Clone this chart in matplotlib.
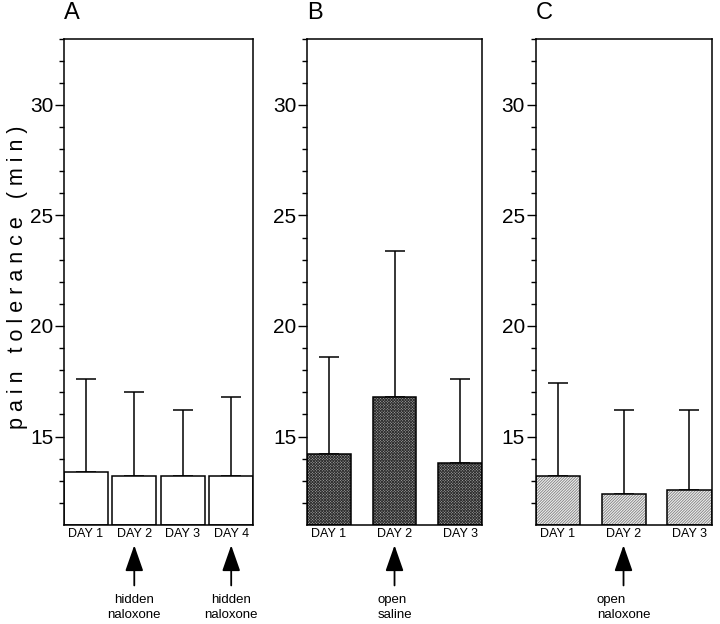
import numpy as np
import matplotlib.pyplot as plt

plt.rcParams['font.family'] = ['Liberation Sans', 'DejaVu Sans']
plt.rcParams['hatch.linewidth'] = 0.6

# values (minutes)
days_a = ['DAY 1', 'DAY 2', 'DAY 3', 'DAY 4']
mean_a = [13.4, 13.2, 13.2, 13.2]
top_a = [17.6, 17.0, 16.2, 16.8]

days_b = ['DAY 1', 'DAY 2', 'DAY 3']
mean_b = [14.2, 16.8, 13.8]
top_b = [18.6, 23.4, 17.6]

days_c = ['DAY 1', 'DAY 2', 'DAY 3']
mean_c = [13.2, 12.4, 12.6]
top_c = [17.4, 16.2, 16.2]

panel_names = ['A', 'B', 'C']
notes_a = ['hidden\nnaloxone', 'hidden\nnaloxone']
note_b = 'open\nsaline'
note_c = 'open\nnaloxone'

y_lo, y_hi = 11, 33

fig = plt.figure(figsize=(7.2, 6.24), dpi=100)
bottom, height = 0.1587, 0.7796
ax_a = fig.add_axes([0.0889, bottom, 0.2625, height])
ax_b = fig.add_axes([0.4264, bottom, 0.2431, height])
ax_c = fig.add_axes([0.7438, bottom, 0.2444, height])


def draw_panel(ax, days, means, tops, width, style):
    x = np.arange(len(days))
    means = np.array(means)
    heights = means - y_lo
    if style == 'white':
        ax.bar(x, heights, width=width, bottom=y_lo, color='white',
               edgecolor='black', linewidth=1.1, zorder=2)
    elif style == 'dark':
        ax.bar(x, heights, width=width, bottom=y_lo, color='#a0a0a0',
               edgecolor='#303030', linewidth=0, hatch='xxxxxxxxxxxx', zorder=2)
        ax.bar(x, heights, width=width, bottom=y_lo, fill=False,
               edgecolor='black', linewidth=1.1, zorder=3)
    else:
        ax.bar(x, heights, width=width, bottom=y_lo, color='#eeeeee',
               edgecolor='#808080', linewidth=0, hatch='////////////', zorder=2)
        ax.bar(x, heights, width=width, bottom=y_lo, fill=False,
               edgecolor='black', linewidth=1.1, zorder=3)
    err = np.array(tops) - means
    ax.errorbar(x, means, yerr=[np.zeros_like(err), err], fmt='none',
                ecolor='black', elinewidth=1.1, capsize=7, capthick=1.1,
                zorder=1)
    ax.set_ylim(y_lo, y_hi)
    ax.set_xlim(-width / 2, len(days) - 1 + width / 2)
    ax.set_xticks(x)
    ax.set_xticklabels(days, fontsize=9)
    ax.tick_params(axis='x', length=0, pad=2)
    ax.set_yticks([15, 20, 25, 30])
    ax.set_yticks(np.arange(12, 34, 1), minor=True)
    ax.tick_params(axis='y', which='major', length=6.5, width=1, labelsize=15, pad=1)
    ax.tick_params(axis='y', which='minor', length=3.6, width=1)
    for s in ax.spines.values():
        s.set_linewidth(1.1)


draw_panel(ax_a, days_a, mean_a, top_a, 0.9, 'white')
draw_panel(ax_b, days_b, mean_b, top_b, 0.667, 'dark')
draw_panel(ax_c, days_c, mean_c, top_c, 0.667, 'light')

for ax, name in zip([ax_a, ax_b, ax_c], panel_names):
    ax.text(0.0, 1.03, name, transform=ax.transAxes, fontsize=17,
            ha='left', va='bottom')

fig.text(0.025, 0.555, 'p a i n   t o l e r a n c e   ( m i n )',
         rotation=90, fontsize=15.5, ha='center', va='center')

arrow_kw = dict(arrowstyle='-|>,head_length=0.8,head_width=0.28',
                mutation_scale=20, lw=1.3, color='black')


def add_arrow(ax, xpos, label, align):
    tr = ax.get_xaxis_transform()
    ax.annotate('', xy=(xpos, -0.036), xytext=(xpos, -0.13),
                xycoords=tr, textcoords=tr, arrowprops=arrow_kw,
                annotation_clip=False)
    ax.text(xpos, -0.142, label, transform=tr, ha='center', va='top',
            fontsize=9.5, multialignment=align, linespacing=1.3)


add_arrow(ax_a, 1, notes_a[0], 'center')
add_arrow(ax_a, 3, notes_a[1], 'center')
add_arrow(ax_b, 1, note_b, 'left')
add_arrow(ax_c, 1, note_c, 'left')

fig.savefig('out.png', dpi=100)
